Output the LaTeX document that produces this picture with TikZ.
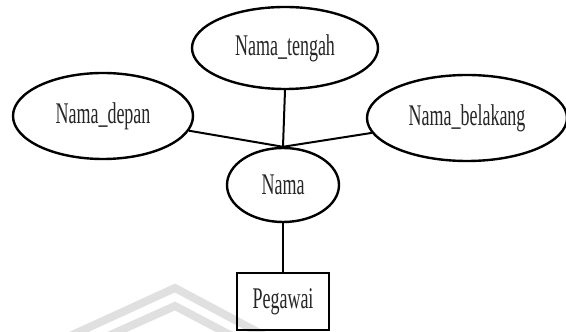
\documentclass[tikz,border=0pt]{standalone}
\usepackage{fontspec}
\newfontfamily\condserif[FakeStretch=0.6]{Liberation Serif}
\usetikzlibrary{shapes.geometric}
\tikzset{
  attr/.style={ellipse, draw, line width=2.4pt, inner sep=0pt, text=black!85,
    font=\condserif\fontsize{30}{33}\selectfont},
  entity/.style={rectangle, draw, line width=2.4pt, inner sep=0pt, text=black!85,
    font=\condserif\fontsize{30}{33}\selectfont},
  link/.style={line width=2pt},
  wmark/.style={line width=8pt, draw=black!12}
}
\begin{document}
\begin{tikzpicture}[x=1pt,y=1pt]
\useasboundingbox (0,0) rectangle (566,332);
\begin{scope}
\clip (0,0) rectangle (566,332);
% watermark
\coordinate (w1a) at (70,-4);
\coordinate (w1b) at (175,44);
\coordinate (w1c) at (265,-4);
\coordinate (w2a) at (108,-4);
\coordinate (w2b) at (175,26);
\coordinate (w2c) at (232,-4);
\draw[wmark] (w1a) -- (w1b) -- (w1c);
\draw[wmark] (w2a) -- (w2b) -- (w2c);
\node[attr, minimum width=186pt, minimum height=82pt] (tengah) at (285,284) {Nama\_tengah};
\node[attr, minimum width=180pt, minimum height=86pt] (depan) at (103,216) {Nama\_depan};
\node[attr, minimum width=200pt, minimum height=86pt] (belakang) at (467,214) {Nama\_belakang};
\node[attr, minimum width=112pt, minimum height=74pt] (nama) at (283,147) {Nama};
\node[entity, minimum width=92pt, minimum height=57pt] (pegawai) at (283,30.5) {Pegawai};
\draw[link] (tengah.south) -- (nama.north);
\draw[link] (depan) -- (nama.north);
\draw[link] (belakang) -- (nama.north);
\draw[link] (nama.south) -- (pegawai.north);
\end{scope}
\end{tikzpicture}
\end{document}
